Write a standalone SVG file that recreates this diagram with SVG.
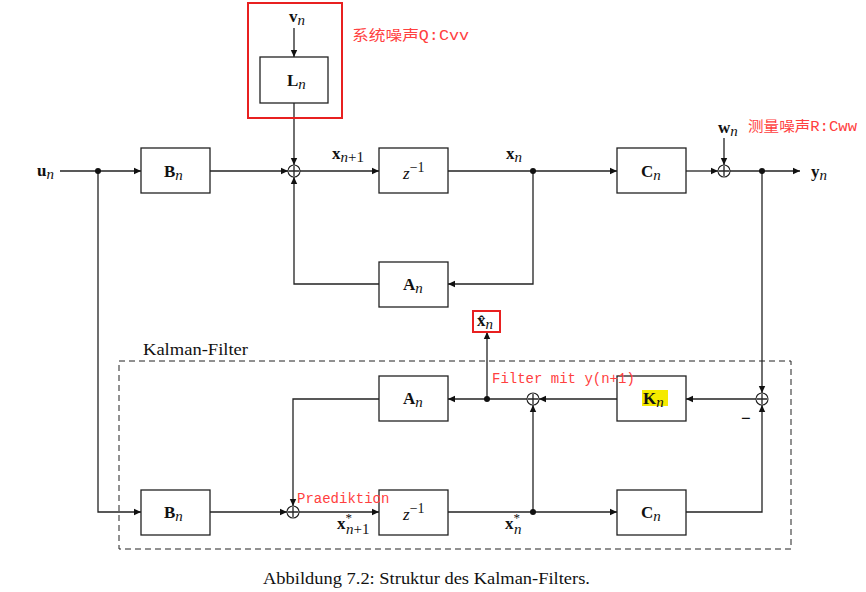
<svg xmlns="http://www.w3.org/2000/svg" width="866" height="592" viewBox="0 0 866 592">
<defs>
<marker id="ah" markerWidth="8" markerHeight="8" refX="7" refY="4" orient="auto" markerUnits="userSpaceOnUse">
<path d="M0,0.8 L7,4 L0,7.2 Z" fill="#111"/>
</marker>
<style>
.box{fill:#fff;stroke:#222;stroke-width:1.3}
.ln{fill:none;stroke:#222;stroke-width:1.3}
.arr{fill:none;stroke:#222;stroke-width:1.3;marker-end:url(#ah)}
.sum{fill:#fff;stroke:#222;stroke-width:1.1}
.dot{fill:#111}
.lbl{font-family:"Liberation Serif","DejaVu Serif",serif;font-size:17px;fill:#111}
.b{font-weight:bold}
.i{font-style:italic}
.red{font-family:"Liberation Mono","Noto Sans CJK SC",monospace;font-size:14px;fill:#ff4040}
.cap{font-family:"Liberation Serif","DejaVu Serif",serif;font-size:17px;fill:#111}
</style>
</defs>
<rect width="866" height="592" fill="#fff"/>

<g id="connectors">
<line class="ln" x1="60" y1="171" x2="98" y2="171"/>
<line class="arr" x1="98" y1="171" x2="141" y2="171"/>
<line class="arr" x1="210" y1="171" x2="288" y2="171"/>
<line class="arr" x1="294" y1="28" x2="294" y2="57"/>
<line class="arr" x1="294" y1="103" x2="294" y2="165"/>
<line class="arr" x1="300" y1="171" x2="379" y2="171"/>
<line class="ln" x1="448" y1="171" x2="533" y2="171"/>
<line class="arr" x1="533" y1="171" x2="617" y2="171"/>
<line class="arr" x1="686" y1="171" x2="718" y2="171"/>
<line class="arr" x1="724" y1="138" x2="724" y2="165"/>
<line class="arr" x1="730" y1="171" x2="800" y2="171"/>
<polyline class="arr" points="533,171 533,284 448,284"/>
<polyline class="arr" points="379,284 294,284 294,177"/>
<line class="arr" x1="762" y1="171" x2="762" y2="393"/>
<polyline class="arr" points="686,512 762,512 762,405"/>
<line class="arr" x1="756" y1="399" x2="686" y2="399"/>
<line class="arr" x1="617" y1="399" x2="539" y2="399"/>
<line class="arr" x1="533" y1="512" x2="533" y2="405"/>
<line class="arr" x1="527" y1="399" x2="448" y2="399"/>
<line class="arr" x1="487" y1="399" x2="487" y2="332"/>
<polyline class="arr" points="379,399 293,399 293,506"/>
<polyline class="arr" points="98,171 98,512 141,512"/>
<line class="arr" x1="210" y1="512" x2="287" y2="512"/>
<line class="arr" x1="299" y1="512" x2="379" y2="512"/>
<line class="ln" x1="448" y1="512" x2="533" y2="512"/>
<line class="arr" x1="533" y1="512" x2="617" y2="512"/>
<circle class="dot" cx="98" cy="171" r="3"/>
<circle class="dot" cx="533" cy="171" r="3"/>
<circle class="dot" cx="762" cy="171" r="3"/>
<circle class="dot" cx="487" cy="399" r="3"/>
<circle class="dot" cx="533" cy="512" r="3"/>
</g>

<g id="sums">
<g id="sum1"><circle class="sum" cx="294" cy="171" r="6"/><path class="ln" d="M289,171 H299 M294,166 V176" stroke-width="1"/></g>
<g id="sum2"><circle class="sum" cx="724" cy="171" r="6"/><path class="ln" d="M719,171 H729 M724,166 V176" stroke-width="1"/></g>
<g id="sum3"><circle class="sum" cx="762" cy="399" r="6"/><path class="ln" d="M757,399 H767 M762,394 V404" stroke-width="1"/></g>
<g id="sum4"><circle class="sum" cx="533" cy="399" r="6"/><path class="ln" d="M528,399 H538 M533,394 V404" stroke-width="1"/></g>
<g id="sum5"><circle class="sum" cx="293" cy="512" r="6"/><path class="ln" d="M288,512 H298 M293,507 V517" stroke-width="1"/></g>
</g>

<g id="noise-box">
<rect x="248" y="3" width="94" height="115" fill="none" stroke="#e82020" stroke-width="2"/>
</g>

<g id="B1"><rect class="box" x="141" y="148" width="69" height="45"/><text class="lbl" x="164" y="177"><tspan class="b">B</tspan><tspan class="i" dy="3" font-size="15">n</tspan></text></g>
<g id="L"><rect class="box" x="260" y="57" width="68" height="46"/><text class="lbl" x="287" y="86"><tspan class="b">L</tspan><tspan class="i" dy="3" font-size="15">n</tspan></text></g>
<g id="Z1"><rect class="box" x="379" y="148" width="69" height="45"/><text class="lbl" x="403" y="179"><tspan class="i">z</tspan><tspan dy="-7" font-size="14">−1</tspan></text></g>
<g id="C1"><rect class="box" x="617" y="148" width="69" height="45"/><text class="lbl" x="641" y="177"><tspan class="b">C</tspan><tspan class="i" dy="3" font-size="15">n</tspan></text></g>
<g id="A1"><rect class="box" x="379" y="262" width="69" height="45"/><text class="lbl" x="403" y="290"><tspan class="b">A</tspan><tspan class="i" dy="3" font-size="15">n</tspan></text></g>

<g id="kalman-frame">
<rect x="119" y="361" width="672" height="188" fill="none" stroke="#222" stroke-width="1" stroke-dasharray="6,4"/>
<text class="cap" x="143" y="355" textLength="105" lengthAdjust="spacingAndGlyphs">Kalman-Filter</text>
</g>

<g id="K"><rect class="box" x="617" y="376" width="69" height="45"/>
<rect x="642" y="390" width="26" height="16" fill="#f5ea00"/>
<text class="lbl" x="643" y="404"><tspan class="b">K</tspan><tspan class="i" dy="3" font-size="15">n</tspan></text></g>
<g id="A2"><rect class="box" x="379" y="376" width="69" height="45"/><text class="lbl" x="403" y="404"><tspan class="b">A</tspan><tspan class="i" dy="3" font-size="15">n</tspan></text></g>
<g id="B2"><rect class="box" x="141" y="490" width="69" height="45"/><text class="lbl" x="164" y="518"><tspan class="b">B</tspan><tspan class="i" dy="3" font-size="15">n</tspan></text></g>
<g id="Z2"><rect class="box" x="379" y="490" width="69" height="45"/><text class="lbl" x="403" y="520"><tspan class="i">z</tspan><tspan dy="-7" font-size="14">−1</tspan></text></g>
<g id="C2"><rect class="box" x="617" y="490" width="69" height="45"/><text class="lbl" x="641" y="518"><tspan class="b">C</tspan><tspan class="i" dy="3" font-size="15">n</tspan></text></g>

<g id="xhat">
<rect x="473" y="311" width="27" height="21" fill="none" stroke="#e82020" stroke-width="2"/>
<text class="lbl" x="477" y="326"><tspan class="b">x̂</tspan><tspan class="i" dy="3" font-size="15">n</tspan></text>
</g>

<g id="labels">
<text class="lbl" x="37" y="176"><tspan class="b">u</tspan><tspan class="i" dy="3" font-size="15">n</tspan></text>
<text class="lbl" x="289" y="22"><tspan class="b">v</tspan><tspan class="i" dy="3" font-size="15">n</tspan></text>
<text class="lbl" x="332" y="159"><tspan class="b">x</tspan><tspan class="i" dy="3" font-size="15">n</tspan><tspan font-size="15">+1</tspan></text>
<text class="lbl" x="506" y="159"><tspan class="b">x</tspan><tspan class="i" dy="3" font-size="15">n</tspan></text>
<text class="lbl" x="718" y="133"><tspan class="b">w</tspan><tspan class="i" dy="3" font-size="15">n</tspan></text>
<text class="lbl" x="811" y="177"><tspan class="b">y</tspan><tspan class="i" dy="3" font-size="15">n</tspan></text>
<text class="lbl" x="741" y="424" font-weight="bold">−</text>
<text class="lbl" x="337" y="529"><tspan class="b">x</tspan><tspan font-size="13" dy="-7">*</tspan><tspan class="i" dx="-6" dy="12" font-size="15">n</tspan><tspan font-size="15">+1</tspan></text>
<text class="lbl" x="505" y="529"><tspan class="b">x</tspan><tspan font-size="13" dy="-7">*</tspan><tspan class="i" dx="-6" dy="12" font-size="15">n</tspan></text>
<text class="red" x="352" y="40" textLength="117" lengthAdjust="spacingAndGlyphs">系统噪声Q:Cvv</text>
<text class="red" x="748" y="131" textLength="109" lengthAdjust="spacingAndGlyphs">测量噪声R:Cww</text>
<text class="red" x="492" y="383">Filter mit y(n+1)</text>
<text class="red" x="297" y="503">Praediktion</text>
<text class="cap" x="263" y="584" textLength="327" lengthAdjust="spacingAndGlyphs">Abbildung 7.2: Struktur des Kalman-Filters.</text>
</g>
</svg>
